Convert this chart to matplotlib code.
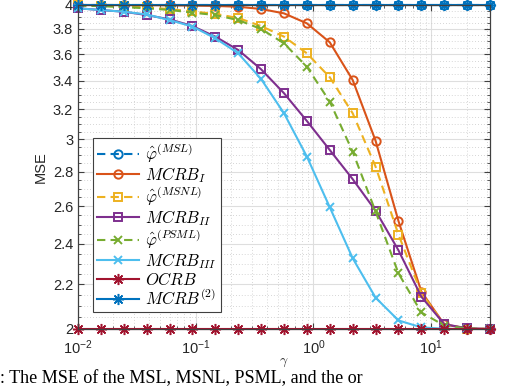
import numpy as np
import matplotlib
matplotlib.use('Agg')
import matplotlib.pyplot as plt
from matplotlib.ticker import FixedLocator, NullFormatter, LogLocator

plt.rcParams['font.family'] = ['Liberation Sans', 'DejaVu Sans']
plt.rcParams['mathtext.fontset'] = 'cm'

# gamma grid (19 points, 10^-2 .. 10^1.5)
gamma = np.logspace(-2, 1.5, 19)

mse_msl = [4.0] * 19
mcrb_i = [4.0, 4.0, 4.0, 3.999, 3.998, 3.995, 3.992, 3.985, 3.966, 3.929, 3.846,
          3.693, 3.407, 2.992, 2.52, 2.167, 2.02, 2.002, 2.0]
mse_msnl = [3.996, 3.993, 3.988, 3.98, 3.965, 3.945, 3.925, 3.89, 3.824, 3.738, 3.607,
            3.427, 3.173, 2.831, 2.448, 2.16, 2.02, 2.002, 2.0]
mcrb_ii = [3.972, 3.957, 3.943, 3.915, 3.879, 3.824, 3.738, 3.633, 3.486, 3.312, 3.121,
           2.933, 2.756, 2.576, 2.367, 2.143, 2.021, 2.003, 2.0]
mse_psml = [3.995, 3.99, 3.982, 3.972, 3.958, 3.935, 3.915, 3.873, 3.80, 3.685, 3.505,
            3.253, 2.923, 2.572, 2.253, 2.072, 2.015, 2.002, 2.0]
mcrb_iii = [3.972, 3.957, 3.943, 3.92, 3.873, 3.82, 3.725, 3.607, 3.414, 3.173, 2.892,
            2.595, 2.327, 2.139, 2.037, 2.007, 2.001, 2.0, 2.0]
ocrb = [2.0] * 19
mcrb_2 = [4.0] * 19

labels = [r'$\hat{\varphi}^{(MSL)}$', r'$MCRB_I$', r'$\hat{\varphi}^{(MSNL)}$', r'$MCRB_{II}$',
          r'$\hat{\varphi}^{(PSML)}$', r'$MCRB_{III}$', r'$OCRB$', r'$MCRB^{(2)}$']
yticks = [2, 2.2, 2.4, 2.6, 2.8, 3, 3.2, 3.4, 3.6, 3.8, 4]
ytick_labels = ['2', '2.2', '2.4', '2.6', '2.8', '3', '3.2', '3.4', '3.6', '3.8', '4']

dash = (0, (4, 2.5))
star = (8, 2, 0)
styles = [
    (mse_msl, '#0072BD', dash, 'o'),
    (mcrb_i, '#D95319', '-', 'o'),
    (mse_msnl, '#EDB120', dash, 's'),
    (mcrb_ii, '#7E2F8E', '-', 's'),
    (mse_psml, '#77AC30', dash, 'x'),
    (mcrb_iii, '#4DBEEE', '-', 'x'),
    (ocrb, '#A2142F', '-', star),
    (mcrb_2, '#0072BD', '-', star),
]

fig = plt.figure(figsize=(5.3, 3.88), dpi=100)
ax = fig.add_axes([78 / 530, 1 - 329 / 388, 412 / 530, 324 / 388])

for (vals, col, ls, mk), lab in zip(styles, labels):
    is_star = mk is star
    ax.plot(gamma, vals, color=col, linestyle=ls, marker=mk,
            markersize=8 if is_star else 6,
            markerfacecolor='none', markeredgewidth=1.1 if is_star else 1.4,
            linewidth=1.5, label=lab, clip_on=False)

ax.set_xscale('log')
ax.set_yscale('log')
ax.set_xlim(1e-2, 10 ** 1.5)
ax.set_ylim(2, 4)
ax.yaxis.set_major_locator(FixedLocator(yticks))
ax.yaxis.set_minor_locator(FixedLocator(np.arange(2.05, 4.0, 0.05)))
ax.set_yticklabels(ytick_labels)
ax.yaxis.set_minor_formatter(NullFormatter())
ax.xaxis.set_major_locator(FixedLocator([1e-2, 1e-1, 1e0, 1e1]))
ax.set_xticklabels([r'$\mathregular{10^{-2}}$', r'$\mathregular{10^{-1}}$',
                    r'$\mathregular{10^{0}}$', r'$\mathregular{10^{1}}$'])
ax.xaxis.set_minor_locator(LogLocator(base=10, subs=np.arange(2, 10)))
ax.xaxis.set_minor_formatter(NullFormatter())

ax.grid(True, which='major', color='#dedede', linewidth=0.8)
ax.grid(True, which='minor', color='#c8c8c8', linestyle=(0, (1, 2.5)), linewidth=0.6)
ax.set_axisbelow(True)
ax.tick_params(which='both', direction='in', top=True, right=True, colors='#404040',
               labelcolor='#262626', labelsize=10.5)
ax.tick_params(axis='x', which='major', pad=7)
ax.tick_params(which='major', length=4)
ax.tick_params(which='minor', length=2)
for s in ax.spines.values():
    s.set_color('#404040')
    s.set_linewidth(0.9)

ax.set_ylabel('MSE', fontsize=10.5, color='#262626', labelpad=4)
ax.set_xlabel(r'$\gamma$', fontsize=10, color='#262626', labelpad=-2)

leg = ax.legend(loc='lower left', bbox_to_anchor=(0.036, 0.052), fontsize=12,
                fancybox=False, framealpha=1, edgecolor='#404040', handlelength=2.5,
                borderpad=0.25, labelspacing=0.0, handletextpad=0.4, borderaxespad=0)
leg.get_frame().set_linewidth(0.8)

fig.text(0.0, 0.013, ': The MSE of the MSL, MSNL, PSML, and the or',
         family='Liberation Serif', fontsize=13, ha='left', va='baseline')

fig.savefig('out.png', dpi=100)
